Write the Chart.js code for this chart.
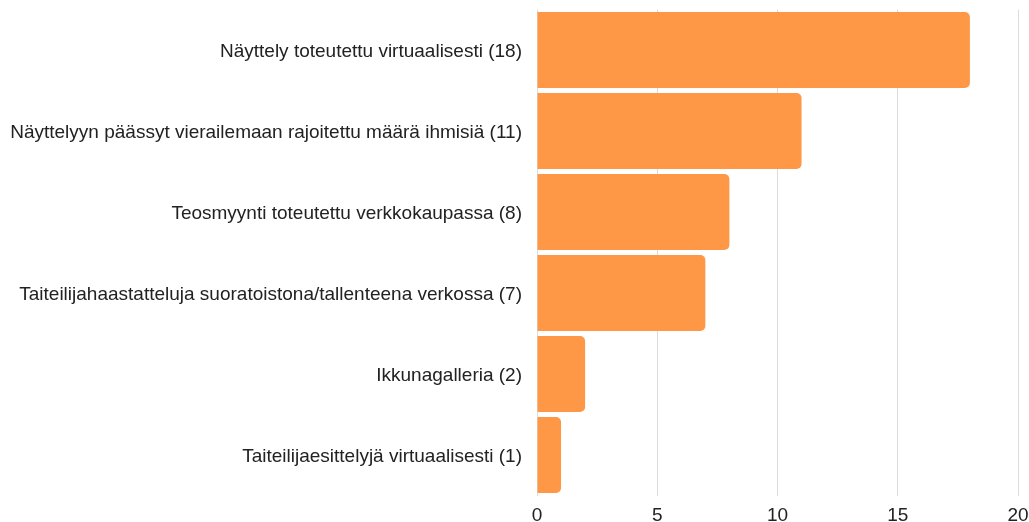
<!DOCTYPE html>
<html>
<head>
<meta charset="utf-8">
<script src="https://cdn.jsdelivr.net/npm/chart.js@4"></script>
<style>
html,body{margin:0;padding:0;background:#fff;}
#wrap{width:1029px;height:522px;position:relative;}
</style>
</head>
<body>
<div id="wrap"><canvas id="c"></canvas></div>
<script>
const categories = [
  "Näyttely toteutettu virtuaalisesti (18)",
  "Näyttelyyn päässyt vierailemaan rajoitettu määrä ihmisiä (11)",
  "Teosmyynti toteutettu verkkokaupassa (8)",
  "Taiteilijahaastatteluja suoratoistona/tallenteena verkossa (7)",
  "Ikkunagalleria (2)",
  "Taiteilijaesittelyjä virtuaalisesti (1)"
];
const values = [18, 11, 8, 7, 2, 1];
const xTicks = [0, 5, 10, 15, 20];

Chart.defaults.font.family = "'Liberation Sans', Arial, sans-serif";
Chart.defaults.font.size = 19;
Chart.defaults.color = "#222";

const zeroPad = s => { s.paddingLeft = 0; s.paddingRight = 0; s.paddingTop = 0; s.paddingBottom = 0; };

new Chart(document.getElementById('c'), {
  type: 'bar',
  data: {
    labels: categories,
    datasets: [{
      data: values,
      backgroundColor: '#FF9846',
      borderRadius: 5,
      borderSkipped: 'start',
      barPercentage: 1,
      categoryPercentage: 0.938
    }]
  },
  options: {
    indexAxis: 'y',
    responsive: true,
    maintainAspectRatio: false,
    animation: false,
    layout: { padding: { top: 9.5, right: 11, left: 0, bottom: 0 } },
    plugins: { legend: { display: false }, tooltip: { enabled: false } },
    scales: {
      x: {
        min: 0, max: 20,
        afterBuildTicks: s => { s.ticks = xTicks.map(v => ({ value: v })); },
        grid: { color: '#dcdcdc', drawTicks: false, lineWidth: 1 },
        border: { display: false },
        ticks: { padding: 9, color: '#222', font: { size: 19 }, maxRotation: 0 },
        afterFit: s => { s.height = 26.5; zeroPad(s); }
      },
      y: {
        grid: { display: false, drawTicks: false },
        border: { display: false },
        ticks: { padding: 15, labelOffset: 1.5, color: '#222', font: { size: 19 } },
        afterFit: s => { s.width = 537; zeroPad(s); }
      }
    }
  }
});
</script>
</body>
</html>
